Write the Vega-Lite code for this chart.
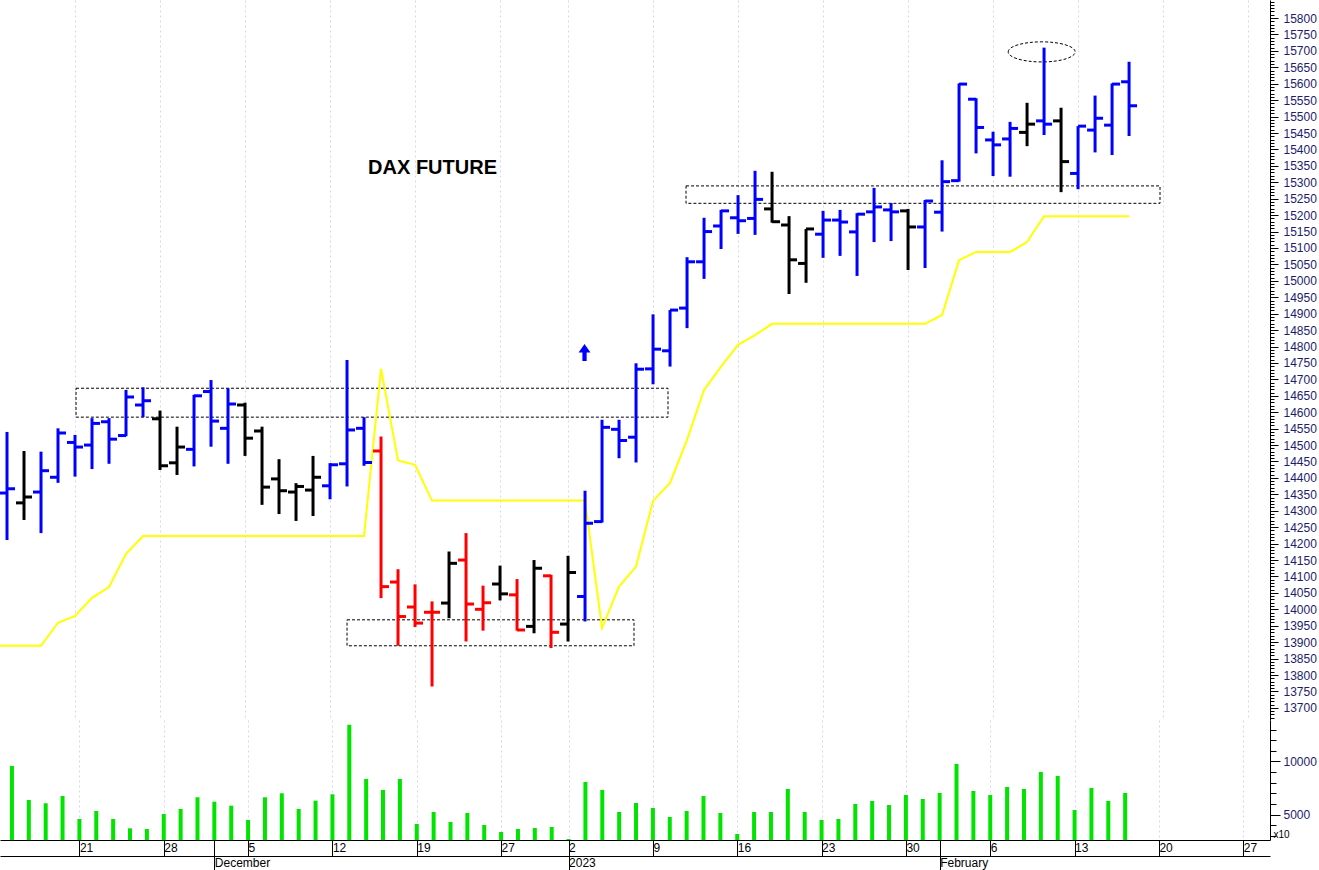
{
  "$schema": "https://vega.github.io/schema/vega-lite/v6.json",
  "padding": 0,
  "background": "#ffffff",
  "spacing": 0,
  "config": {
    "view": {"stroke": null},
    "concat": {"spacing": 0},
    "axis": {"labelFont": "Liberation Sans", "labelFontSize": 12, "titleFont": "Liberation Sans", "domainColor": "#000000", "tickColor": "#000000", "labelColor": "#000000", "labelOverlap": false, "labelFlush": false, "labelBound": false, "domainWidth": 1, "tickWidth": 1}
  },
  "datasets": {
    "bars": [
      {"session":0,"date":"2022-11-14","stop":13889},
      {"session":1,"date":"2022-11-15","open":14354,"high":14540,"low":14211,"close":14367,"signal":"up","stop":13889,"volume":9576},
      {"session":2,"date":"2022-11-16","open":14324,"high":14482,"low":14272,"close":14342,"signal":"neutral","stop":13889,"volume":6370},
      {"session":3,"date":"2022-11-17","open":14357,"high":14480,"low":14232,"close":14422,"signal":"up","stop":13889,"volume":6058},
      {"session":4,"date":"2022-11-18","open":14402,"high":14551,"low":14385,"close":14537,"signal":"up","stop":13959,"volume":6747},
      {"session":5,"date":"2022-11-21","open":14508,"high":14531,"low":14404,"close":14494,"signal":"up","stop":13980,"volume":4578},
      {"session":6,"date":"2022-11-22","open":14500,"high":14582,"low":14427,"close":14566,"signal":"up","stop":14035,"volume":5332},
      {"session":7,"date":"2022-11-23","open":14571,"high":14582,"low":14443,"close":14518,"signal":"up","stop":14068,"volume":4578},
      {"session":8,"date":"2022-11-24","open":14529,"high":14668,"low":14527,"close":14646,"signal":"up","stop":14169,"volume":3700},
      {"session":9,"date":"2022-11-25","open":14622,"high":14676,"low":14585,"close":14635,"signal":"up","stop":14223,"volume":3635},
      {"session":10,"date":"2022-11-28","open":14580,"high":14605,"low":14424,"close":14437,"signal":"neutral","stop":14223,"volume":5049},
      {"session":11,"date":"2022-11-29","open":14446,"high":14556,"low":14409,"close":14494,"signal":"neutral","stop":14223,"volume":5521},
      {"session":12,"date":"2022-11-30","open":14487,"high":14653,"low":14435,"close":14650,"signal":"up","stop":14223,"volume":6624},
      {"session":13,"date":"2022-12-01","open":14663,"high":14698,"low":14495,"close":14573,"signal":"up","stop":14223,"volume":6209},
      {"session":14,"date":"2022-12-02","open":14551,"high":14673,"low":14443,"close":14625,"signal":"up","stop":14223,"volume":5832},
      {"session":15,"date":"2022-12-05","open":14622,"high":14629,"low":14467,"close":14521,"signal":"neutral","stop":14223,"volume":4483},
      {"session":16,"date":"2022-12-06","open":14543,"high":14556,"low":14318,"close":14372,"signal":"neutral","stop":14223,"volume":6624},
      {"session":17,"date":"2022-12-07","open":14397,"high":14457,"low":14290,"close":14361,"signal":"neutral","stop":14223,"volume":7001},
      {"session":18,"date":"2022-12-08","open":14357,"high":14384,"low":14269,"close":14374,"signal":"neutral","stop":14223,"volume":5521},
      {"session":19,"date":"2022-12-09","open":14363,"high":14467,"low":14284,"close":14402,"signal":"neutral","stop":14223,"volume":6303},
      {"session":20,"date":"2022-12-12","open":14376,"high":14445,"low":14335,"close":14440,"signal":"up","stop":14223,"volume":6907},
      {"session":21,"date":"2022-12-13","open":14443,"high":14759,"low":14374,"close":14546,"signal":"up","stop":14223,"volume":13442},
      {"session":22,"date":"2022-12-14","open":14551,"high":14585,"low":14437,"close":14447,"signal":"up","stop":14223,"volume":8350},
      {"session":23,"date":"2022-12-15","open":14482,"high":14526,"low":14034,"close":14069,"signal":"down","stop":14732,"volume":7313},
      {"session":24,"date":"2022-12-16","open":14083,"high":14122,"low":13889,"close":13978,"signal":"down","stop":14453,"volume":8350},
      {"session":25,"date":"2022-12-19","open":14007,"high":14076,"low":13946,"close":13958,"signal":"down","stop":14440,"volume":4106},
      {"session":26,"date":"2022-12-20","open":13991,"high":14024,"low":13765,"close":13991,"signal":"down","stop":14331,"volume":5238},
      {"session":27,"date":"2022-12-21","open":14019,"high":14176,"low":13973,"close":14140,"signal":"neutral","stop":14331,"volume":4295},
      {"session":28,"date":"2022-12-22","open":14150,"high":14232,"low":13902,"close":14016,"signal":"down","stop":14331,"volume":5143},
      {"session":29,"date":"2022-12-23","open":14000,"high":14072,"low":13935,"close":14020,"signal":"down","stop":14331,"volume":4012},
      {"session":30,"date":"2022-12-27","open":14077,"high":14133,"low":14027,"close":14047,"signal":"neutral","stop":14331,"volume":3352},
      {"session":31,"date":"2022-12-28","open":14044,"high":14092,"low":13935,"close":13937,"signal":"down","stop":14331,"volume":3635},
      {"session":32,"date":"2022-12-29","open":13948,"high":14150,"low":13927,"close":14125,"signal":"neutral","stop":14331,"volume":3729},
      {"session":33,"date":"2022-12-30","open":14102,"high":14105,"low":13882,"close":13930,"signal":"down","stop":14331,"volume":3824},
      {"session":34,"date":"2023-01-02","open":13955,"high":14163,"low":13902,"close":14112,"signal":"neutral","stop":14331,"volume":2700},
      {"session":35,"date":"2023-01-03","open":14039,"high":14361,"low":13963,"close":14262,"signal":"up","stop":14331,"volume":8067},
      {"session":36,"date":"2023-01-04","open":14267,"high":14577,"low":14264,"close":14554,"signal":"up","stop":13943,"volume":7313},
      {"session":37,"date":"2023-01-05","open":14548,"high":14577,"low":14460,"close":14514,"signal":"up","stop":14069,"volume":5238},
      {"session":38,"date":"2023-01-06","open":14524,"high":14749,"low":14447,"close":14731,"signal":"up","stop":14130,"volume":6087},
      {"session":39,"date":"2023-01-09","open":14732,"high":14898,"low":14685,"close":14792,"signal":"up","stop":14330,"volume":5615},
      {"session":40,"date":"2023-01-10","open":14787,"high":14911,"low":14739,"close":14911,"signal":"up","stop":14385,"volume":4766},
      {"session":41,"date":"2023-01-11","open":14917,"high":15072,"low":14856,"close":15058,"signal":"up","stop":14516,"volume":5332},
      {"session":42,"date":"2023-01-12","open":15058,"high":15192,"low":15006,"close":15150,"signal":"up","stop":14668,"volume":6747},
      {"session":43,"date":"2023-01-13","open":15167,"high":15216,"low":15097,"close":15213,"signal":"up","stop":14739,"volume":5143},
      {"session":44,"date":"2023-01-16","open":15192,"high":15261,"low":15143,"close":15183,"signal":"up","stop":14805,"volume":3163},
      {"session":45,"date":"2023-01-17","open":15190,"high":15335,"low":15140,"close":15248,"signal":"up","stop":14835,"volume":5238},
      {"session":46,"date":"2023-01-18","open":15219,"high":15332,"low":15177,"close":15180,"signal":"neutral","stop":14869,"volume":5238},
      {"session":47,"date":"2023-01-19","open":15170,"high":15197,"low":14960,"close":15064,"signal":"neutral","stop":14869,"volume":7407},
      {"session":48,"date":"2023-01-20","open":15053,"high":15158,"low":14994,"close":15158,"signal":"neutral","stop":14869,"volume":5238},
      {"session":49,"date":"2023-01-23","open":15142,"high":15213,"low":15070,"close":15185,"signal":"up","stop":14869,"volume":4483},
      {"session":50,"date":"2023-01-24","open":15185,"high":15216,"low":15076,"close":15179,"signal":"up","stop":14869,"volume":4578},
      {"session":51,"date":"2023-01-25","open":15149,"high":15206,"low":15015,"close":15203,"signal":"up","stop":14869,"volume":5992},
      {"session":52,"date":"2023-01-26","open":15210,"high":15283,"low":15118,"close":15225,"signal":"up","stop":14869,"volume":6275},
      {"session":53,"date":"2023-01-27","open":15216,"high":15237,"low":15121,"close":15210,"signal":"up","stop":14869,"volume":5898},
      {"session":54,"date":"2023-01-30","open":15213,"high":15219,"low":15033,"close":15164,"signal":"neutral","stop":14869,"volume":6841},
      {"session":55,"date":"2023-01-31","open":15164,"high":15246,"low":15039,"close":15243,"signal":"up","stop":14869,"volume":6464},
      {"session":56,"date":"2023-02-01","open":15209,"high":15367,"low":15150,"close":15302,"signal":"up","stop":14896,"volume":7030},
      {"session":57,"date":"2023-02-02","open":15305,"high":15601,"low":15302,"close":15599,"signal":"up","stop":15063,"volume":9764},
      {"session":58,"date":"2023-02-03","open":15553,"high":15556,"low":15388,"close":15467,"signal":"up","stop":15088,"volume":7219},
      {"session":59,"date":"2023-02-06","open":15429,"high":15454,"low":15319,"close":15414,"signal":"up","stop":15088,"volume":6841},
      {"session":60,"date":"2023-02-07","open":15432,"high":15484,"low":15317,"close":15464,"signal":"up","stop":15088,"volume":7596},
      {"session":61,"date":"2023-02-08","open":15452,"high":15542,"low":15410,"close":15477,"signal":"neutral","stop":15118,"volume":7407},
      {"session":62,"date":"2023-02-09","open":15487,"high":15710,"low":15444,"close":15477,"signal":"up","stop":15197,"volume":9010},
      {"session":63,"date":"2023-02-10","open":15487,"high":15527,"low":15270,"close":15363,"signal":"neutral","stop":15197,"volume":8633},
      {"session":64,"date":"2023-02-13","open":15327,"high":15471,"low":15279,"close":15471,"signal":"up","stop":15197,"volume":5427},
      {"session":65,"date":"2023-02-14","open":15459,"high":15564,"low":15391,"close":15495,"signal":"up","stop":15197,"volume":7502},
      {"session":66,"date":"2023-02-15","open":15474,"high":15601,"low":15383,"close":15599,"signal":"up","stop":15197,"volume":6275},
      {"session":67,"date":"2023-02-16","open":15606,"high":15667,"low":15441,"close":15533,"signal":"up","stop":15197,"volume":7030}
    ],
    "zones": [
      {"from":5.06,"to":39.88,"low":14585,"high":14673},
      {"from":21.0,"to":37.88,"low":13889,"high":13968},
      {"from":40.94,"to":68.82,"low":15236,"high":15289}
    ],
    "notes": [
      {"session":26.03,"price":15344,"kind":"title","label":"DAX FUTURE"},
      {"session":34.97,"price":14782,"kind":"arrow","label":""},
      {"session":61.86,"price":15697,"kind":"ring","label":""}
    ]
  },
  "vconcat": [
    {
      "width": 1270,
      "height": 720,
      "resolve": {"axis": {"x": "independent", "y": "independent"}},
      "layer": [
        {
          "data": {"name": "zones"},
          "mark": {"type": "rect", "fill": "transparent", "stroke": "#000000", "strokeWidth": 1, "strokeDash": [3, 2]},
          "encoding": {
            "x": {"field": "from", "type": "quantitative", "scale": {"domain": [0.588, 75.29], "nice": false, "zero": false},
              "axis": {"orient": "bottom", "values": [5,10,15,20,25,30,34,39,44,49,54,59,64,69,74], "grid": true, "gridColor": "#d4d4f4", "gridDash": [2,3], "gridWidth": 1, "domain": false, "ticks": false, "labels": false, "title": null}},
            "x2": {"field": "to"},
            "y": {"field": "low", "type": "quantitative", "scale": {"domain": [13663, 15855], "nice": false, "zero": false},
              "axis": {"orient": "right", "values": [13700,13750,13800,13850,13900,13950,14000,14050,14100,14150,14200,14250,14300,14350,14400,14450,14500,14550,14600,14650,14700,14750,14800,14850,14900,14950,15000,15050,15100,15150,15200,15250,15300,15350,15400,15450,15500,15550,15600,15650,15700,15750,15800], "format": "d", "tickSize": 8, "labelPadding": 5, "labelColor": "#1c1c6a", "grid": false, "domain": true, "title": null}},
            "y2": {"field": "high"}
          }
        },
        {
          "data": {"name": "bars"},
          "mark": {"type": "line", "color": "#ffff00", "strokeWidth": 2, "clip": true},
          "encoding": {
            "x": {"field": "session", "type": "quantitative", "scale": {"domain": [0.588, 75.29], "nice": false, "zero": false}, "axis": null},
            "y": {"field": "stop", "type": "quantitative", "scale": {"domain": [13663, 15855], "nice": false, "zero": false},
              "axis": {"orient": "right", "tickCount": 220, "tickSize": 4, "labels": false, "domain": false, "grid": false, "title": null}}
          }
        },
        {
          "data": {"name": "notes"},
          "transform": [{"filter": "datum.kind === 'ring'"}],
          "mark": {"type": "point", "shape": "M-1,0A1,0.3,0,1,1,1,0A1,0.3,0,1,1,-1,0Z", "size": 4489, "filled": false, "stroke": "#000000", "strokeWidth": 1, "strokeDash": [3, 2], "opacity": 1},
          "encoding": {
            "x": {"field": "session", "type": "quantitative", "scale": {"domain": [0.588, 75.29], "nice": false, "zero": false}, "axis": null},
            "y": {"field": "price", "type": "quantitative", "scale": {"domain": [13663, 15855], "nice": false, "zero": false}, "axis": null}
          }
        },
        {
          "data": {"name": "bars"},
          "mark": {"type": "rule", "strokeWidth": 3, "clip": true},
          "encoding": {
            "x": {"field": "session", "type": "quantitative", "scale": {"domain": [0.588, 75.29], "nice": false, "zero": false}, "axis": null},
            "y": {"field": "low", "type": "quantitative", "scale": {"domain": [13663, 15855], "nice": false, "zero": false}, "axis": null},
            "y2": {"field": "high"},
            "color": {"field": "signal", "type": "nominal", "scale": {"domain": ["up", "neutral", "down"], "range": ["#0000ff", "#000000", "#ff0000"]}, "legend": null}
          }
        },
        {
          "data": {"name": "bars"},
          "mark": {"type": "tick", "orient": "horizontal", "size": 8, "thickness": 3, "xOffset": -4, "opacity": 1, "clip": true},
          "encoding": {
            "x": {"field": "session", "type": "quantitative", "scale": {"domain": [0.588, 75.29], "nice": false, "zero": false}, "axis": null},
            "y": {"field": "open", "type": "quantitative", "scale": {"domain": [13663, 15855], "nice": false, "zero": false}, "axis": null},
            "color": {"field": "signal", "type": "nominal", "scale": {"domain": ["up", "neutral", "down"], "range": ["#0000ff", "#000000", "#ff0000"]}, "legend": null}
          }
        },
        {
          "data": {"name": "bars"},
          "mark": {"type": "tick", "orient": "horizontal", "size": 8, "thickness": 3, "xOffset": 4, "opacity": 1, "clip": true},
          "encoding": {
            "x": {"field": "session", "type": "quantitative", "scale": {"domain": [0.588, 75.29], "nice": false, "zero": false}, "axis": null},
            "y": {"field": "close", "type": "quantitative", "scale": {"domain": [13663, 15855], "nice": false, "zero": false}, "axis": null},
            "color": {"field": "signal", "type": "nominal", "scale": {"domain": ["up", "neutral", "down"], "range": ["#0000ff", "#000000", "#ff0000"]}, "legend": null}
          }
        },
        {
          "data": {"name": "notes"},
          "transform": [{"filter": "datum.kind === 'arrow'"}],
          "mark": {"type": "point", "shape": "M-0.25,1L0.25,1L0.25,0L0.7,0L0,-1L-0.7,0L-0.25,0Z", "size": 289, "filled": true, "color": "#0000ff", "opacity": 1},
          "encoding": {
            "x": {"field": "session", "type": "quantitative", "scale": {"domain": [0.588, 75.29], "nice": false, "zero": false}, "axis": null},
            "y": {"field": "price", "type": "quantitative", "scale": {"domain": [13663, 15855], "nice": false, "zero": false}, "axis": null}
          }
        },
        {
          "data": {"name": "notes"},
          "transform": [{"filter": "datum.kind === 'title'"}],
          "mark": {"type": "text", "font": "Liberation Sans", "fontSize": 20, "fontWeight": "bold", "color": "#000000", "align": "center", "baseline": "middle"},
          "encoding": {
            "x": {"field": "session", "type": "quantitative", "scale": {"domain": [0.588, 75.29], "nice": false, "zero": false}, "axis": null},
            "y": {"field": "price", "type": "quantitative", "scale": {"domain": [13663, 15855], "nice": false, "zero": false}, "axis": null},
            "text": {"field": "label"}
          }
        }
      ]
    },
    {
      "width": 1270,
      "height": 120,
      "resolve": {"axis": {"x": "independent", "y": "independent"}},
      "layer": [
        {
          "data": {"name": "bars"},
          "mark": {"type": "bar", "size": 4, "color": "#00e400", "clip": true},
          "encoding": {
            "x": {"field": "session", "type": "quantitative", "scale": {"domain": [0.588, 75.29], "nice": false, "zero": false},
              "axis": {"orient": "bottom", "values": [5,10,13,15,20,25,30,34,39,44,49,54,56,59,64,69,74],
                "labelExpr": "datum.value === 5 ? '21' : datum.value === 10 ? '28' : datum.value === 15 ? '5' : datum.value === 20 ? '12' : datum.value === 25 ? '19' : datum.value === 30 ? '27' : datum.value === 34 ? '2' : datum.value === 39 ? '9' : datum.value === 44 ? '16' : datum.value === 49 ? '23' : datum.value === 54 ? '30' : datum.value === 59 ? '6' : datum.value === 64 ? '13' : datum.value === 69 ? '20' : datum.value === 74 ? '27' : ''",
                "tickSize": 16, "labelPadding": -14, "labelAlign": "left", "labelBaseline": "top", "labelDx": 3,
                "grid": true, "gridColor": "#d4d4f4", "gridDash": [2,3], "gridWidth": 1,
                "gridOpacity": {"condition": {"test": "datum.value === 13 || datum.value === 56", "value": 0}, "value": 1},
                "domain": true, "title": null}},
            "y": {"field": "volume", "type": "quantitative", "scale": {"domain": [2600, 13900], "nice": false, "zero": false},
              "axis": {"orient": "right", "values": [5000, 10000], "format": "d", "tickSize": 10, "labelPadding": 3, "labelColor": "#1c1c6a", "grid": false, "domain": true, "title": null}}
          }
        },
        {
          "data": {"name": "bars"},
          "mark": {"type": "tick", "opacity": 0},
          "encoding": {
            "x": {"field": "session", "type": "quantitative", "scale": {"domain": [0.588, 75.29], "nice": false, "zero": false},
              "axis": {"orient": "bottom", "offset": 16, "values": [13, 34, 56],
                "labelExpr": "datum.value === 13 ? 'December' : datum.value === 34 ? '2023' : 'February'",
                "tickSize": 14, "labelPadding": -13, "labelAlign": "left", "labelBaseline": "top", "labelDx": 3,
                "grid": false, "domain": true, "title": null}},
            "y": {"field": "volume", "type": "quantitative", "scale": {"domain": [2600, 13900], "nice": false, "zero": false},
              "axis": {"orient": "right", "tickCount": 11, "tickSize": 6, "labels": false, "domain": false, "grid": false,
                "title": "x10", "titleAngle": 0, "titleX": 3, "titleY": 119, "titleAlign": "left", "titleBaseline": "bottom", "titleFontSize": 10, "titleFontWeight": "normal", "titleColor": "#000000", "titleFont": "Liberation Sans"}}
          }
        }
      ]
    }
  ]
}
